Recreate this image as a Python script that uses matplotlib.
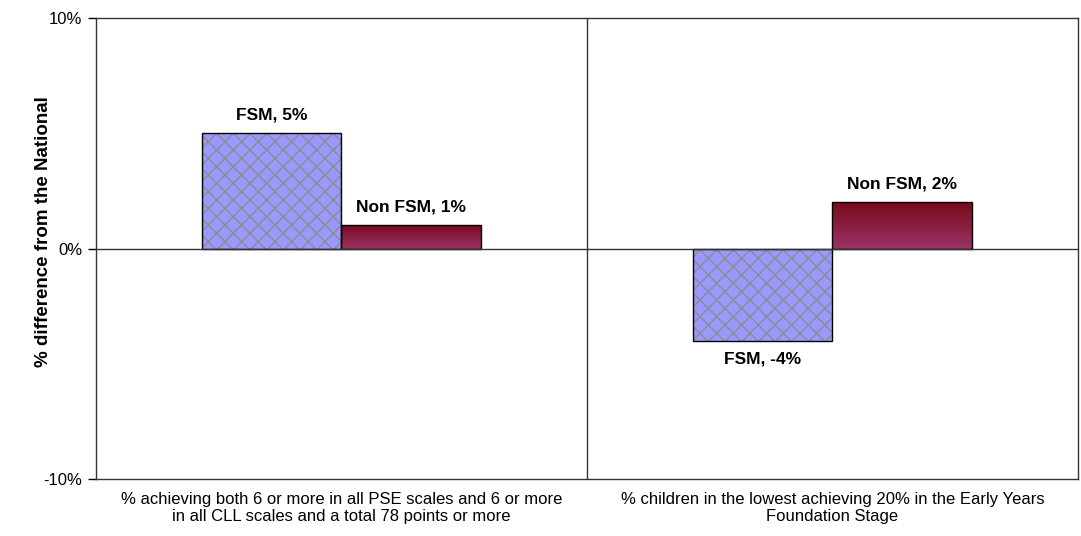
import matplotlib.pyplot as plt
import numpy as np
from matplotlib.colors import LinearSegmentedColormap

plt.rcParams['font.family'] = ['Liberation Sans', 'DejaVu Sans']
plt.rcParams['hatch.linewidth'] = 1.0

categories = [
    "% achieving both 6 or more in all PSE scales and 6 or more\nin all CLL scales and a total 78 points or more",
    "% children in the lowest achieving 20% in the Early Years\nFoundation Stage",
]
fsm = [5, -4]
non_fsm = [1, 2]
series_names = ["FSM", "Non FSM"]

fig = plt.figure(figsize=(10.81, 5.36), dpi=100)
ax = fig.add_axes([0.0888, 0.1063, 0.9084, 0.8601])

x = np.arange(len(categories))
w = 0.285

# hatched fill (hatch takes the edge colour), then a black outline on top
ax.bar(x - w / 2, fsm, w, color='#9999ff', edgecolor='#8c8c8c', linewidth=0,
       hatch='xx', zorder=3)
b1 = ax.bar(x - w / 2, fsm, w, color='none', edgecolor='black', linewidth=1,
            zorder=4)
b2 = ax.bar(x + w / 2, non_fsm, w, color='none', edgecolor='black', linewidth=1,
            zorder=4)

# gradient fill for Non FSM bars: dark red at top, plum at bottom
cmap = LinearSegmentedColormap.from_list('g', ['#7a0a1c', '#993366'])
grad = np.linspace(0, 1, 100).reshape(-1, 1)
for bar in b2:
    bx, by = bar.get_x(), bar.get_y()
    bw, bh = bar.get_width(), bar.get_height()
    im = ax.imshow(grad, extent=[bx, bx + bw, by, by + bh], aspect='auto',
                   cmap=cmap, origin='upper', zorder=3)
    im.set_clip_path(bar)

ax.set_xlim(-0.5, 1.5)
ax.set_ylim(-10, 10)

lab_fs = 12.5
for bar, v in zip(b1, fsm):
    cx = bar.get_x() + bar.get_width() / 2
    if v >= 0:
        ax.annotate(f"{series_names[0]}, {v}%", (cx, v), xytext=(0, 8),
                    textcoords='offset points', ha='center', va='bottom',
                    fontsize=lab_fs, fontweight='bold')
    else:
        ax.annotate(f"{series_names[0]}, {v}%", (cx, v), xytext=(0, -8),
                    textcoords='offset points', ha='center', va='top',
                    fontsize=lab_fs, fontweight='bold')
for bar, v in zip(b2, non_fsm):
    cx = bar.get_x() + bar.get_width() / 2
    ax.annotate(f"{series_names[1]}, {v}%", (cx, v), xytext=(0, 8),
                textcoords='offset points', ha='center', va='bottom',
                fontsize=lab_fs, fontweight='bold')

ax.axhline(0, color='#333333', linewidth=1, zorder=5)
ax.axvline(0.5, color='#333333', linewidth=1, zorder=1)

ax.set_yticks([-10, 0, 10])
ax.set_yticklabels(['-10%', '0%', '10%'], fontsize=12)
ax.tick_params(axis='y', direction='out', length=6, width=1, pad=4)
ax.set_xticks(x)
ax.set_xticklabels(categories, fontsize=12)
ax.tick_params(axis='x', length=0, pad=9)

for s in ax.spines.values():
    s.set_color('#333333')
    s.set_linewidth(1)

ax.set_ylabel('% difference from the National', fontsize=13.5, fontweight='bold')
ax.yaxis.set_label_coords(-44 / 982, 0.536)

fig.savefig('out.png', dpi=100)
